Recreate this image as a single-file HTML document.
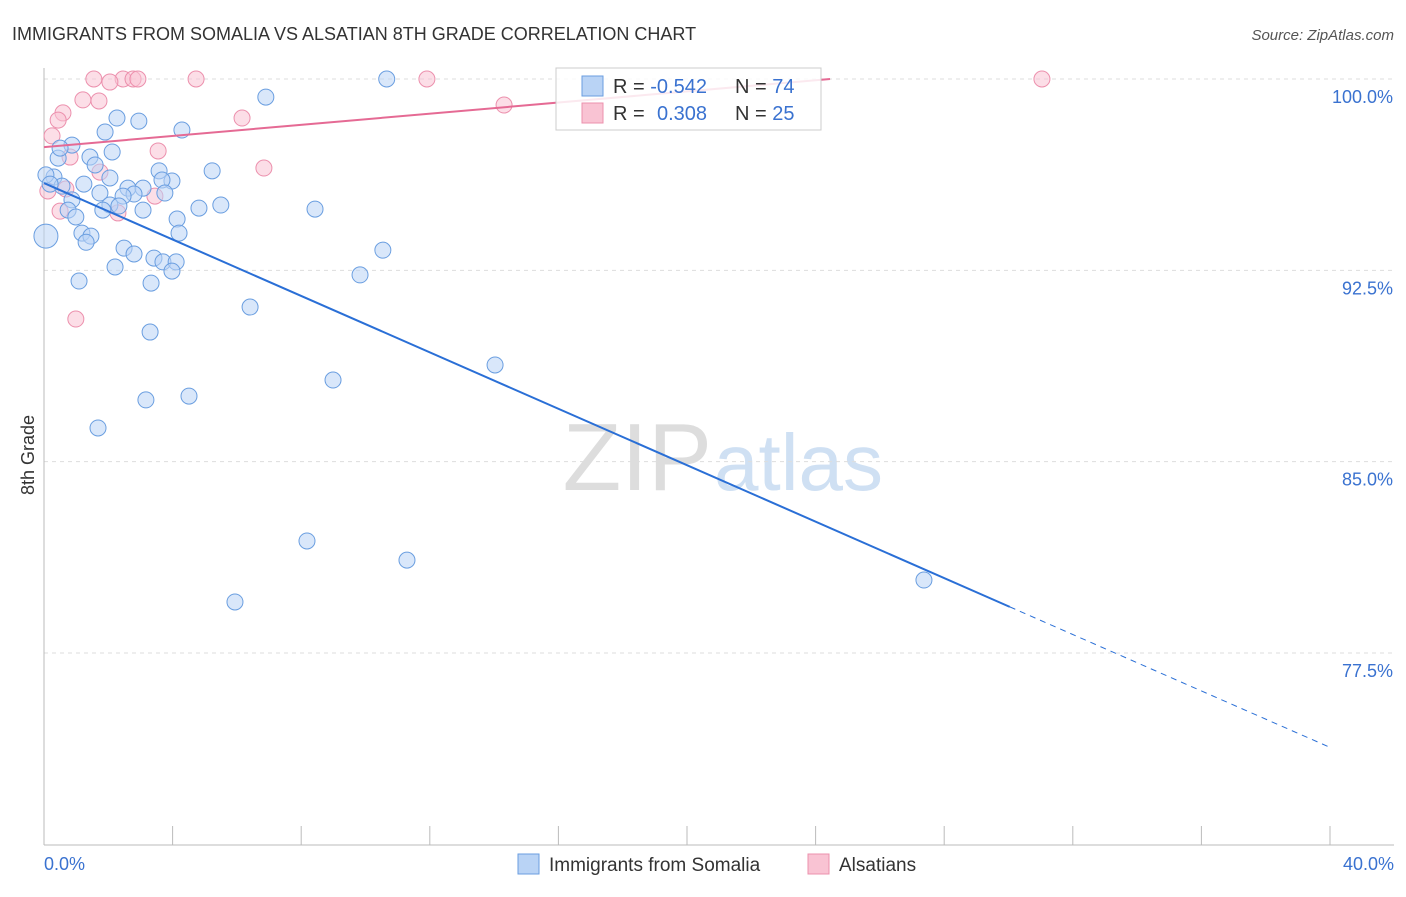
<!DOCTYPE html>
<html><head><meta charset="utf-8"><style>
body{margin:0;background:#fff;font-family:"Liberation Sans",sans-serif}
svg text{font-family:"Liberation Sans",sans-serif}
</style></head><body>
<svg width="1406" height="892" xmlns="http://www.w3.org/2000/svg">
<text x="12" y="40" font-size="18" fill="#333">IMMIGRANTS FROM SOMALIA VS ALSATIAN 8TH GRADE CORRELATION CHART</text>
<text x="1394" y="40" font-size="15" fill="#555" font-style="italic" text-anchor="end">Source: ZipAtlas.com</text>
<text x="712" y="490" font-size="96" fill="#ddd" font-family="Liberation Serif" text-anchor="end">ZIP</text>
<text x="714" y="490" font-size="80" fill="#cfe0f3">atlas</text>
<g id="grid"></g>
<g id="axes"></g>
<g id="marks"></g>
<text x="34" y="455" font-size="18" fill="#333" transform="rotate(-90 34 455)" text-anchor="middle">8th Grade</text>
<g>
<rect x="556" y="68" width="265" height="62" fill="#fff" fill-opacity="0.85" stroke="#ccc"/>
<rect x="582" y="76" width="21" height="20" fill="#b9d3f5" stroke="#6a9ee0"/>
<rect x="582" y="103" width="21" height="20" fill="#f9c3d3" stroke="#ec90ad"/>
<text x="613" y="93" font-size="20" fill="#333">R = <tspan fill="#3a72d0">-0.542</tspan></text>
<text x="735" y="93" font-size="20" fill="#333">N = <tspan fill="#3a72d0">74</tspan></text>
<text x="613" y="120" font-size="20" fill="#333">R = <tspan fill="#3a72d0" x="657">0.308</tspan></text>
<text x="735" y="120" font-size="20" fill="#333">N = <tspan fill="#3a72d0">25</tspan></text>
</g>
<g>
<rect x="518" y="854" width="21" height="20" fill="#b9d3f5" stroke="#6a9ee0"/>
<text x="549" y="871" font-size="19" fill="#333">Immigrants from Somalia</text>
<rect x="808" y="854" width="21" height="20" fill="#f9c3d3" stroke="#ec90ad"/>
<text x="839" y="871" font-size="19" fill="#333">Alsatians</text>
</g>
</svg>
<script>
const yTicks=[100,92.5,85,77.5];
const yTickLabels=["100.0%","92.5%","85.0%","77.5%"];
const xTickLabels=["0.0%","40.0%"];
const somaliaX=[10.66,6.9,2.27,2.95,4.29,1.9,0.87,2.12,0.44,1.43,1.59,3.58,5.23,0.31,0.06,2.05,3.98,3.67,1.24,0.56,2.61,3.08,1.74,2.8,3.76,2.46,0.87,2.05,5.5,4.82,8.43,0.75,1.83,3.08,2.33,0.99,4.14,0.06,1.18,1.46,4.2,1.31,2.49,10.54,2.8,3.42,3.7,4.11,2.21,3.98,9.83,1.09,3.33,6.41,3.3,14.03,8.99,4.51,3.17,1.68,8.18,11.29,27.37,5.94,0.19,0.5];
const somaliaY=[100,99.29,98.47,98.35,98,97.92,97.41,97.14,96.9,96.94,96.63,96.4,96.4,96.16,96.24,96.12,96,96.04,95.88,95.8,95.72,95.72,95.53,95.49,95.53,95.41,95.26,95.06,95.06,94.94,94.9,94.86,94.86,94.86,95.02,94.59,94.51,93.84,93.96,93.84,93.96,93.6,93.37,93.29,93.14,92.98,92.83,92.83,92.63,92.47,92.32,92.08,92,91.06,90.08,88.79,88.2,87.57,87.42,86.32,81.89,81.14,80.36,79.5,95.88,97.29];
const alsX=[1.55,2.46,2.77,2.92,4.73,11.91,31.04,2.05,1.21,0.59,1.71,14.31,6.16,0.44,0.25,3.55,0.81,6.84,1.74,0.68,3.45,0.12,2.3,0.5,0.99];
const alsY=[100,100,100,100,100,100,100,99.88,99.18,98.67,99.14,98.98,98.47,98.39,97.77,97.18,96.94,96.51,96.35,95.69,95.41,95.61,94.75,94.82,90.59];
const somaliaFit=[95.92,73.8], somaliaSolidEnd=30.04;
const alsFit=[97.33,100], alsEnd=24.45;
const X=v=>44+v*32.15, Y=v=>79+(100-v)*25.51;
const NS="http://www.w3.org/2000/svg";
function mk(t,a,p){const e=document.createElementNS(NS,t);for(const k in a)e.setAttribute(k,a[k]);document.getElementById(p).appendChild(e);return e;}
yTicks.forEach((t,i)=>{
 const g=mk('line',{x1:44,x2:1394,y1:Y(t),y2:Y(t),stroke:'#ddd','stroke-dasharray':'4,4'},'grid');
 
 
 const l=mk('text',{x:1393,y:Y(t)+24,'font-size':18,fill:'#3a72d0','text-anchor':'end'},'axes');
 l.textContent=yTickLabels[i];
 
 
});
let ax=mk('line',{x1:44,x2:44,y1:68,y2:845,stroke:'#bbb'},'axes');


ax=mk('line',{x1:44,x2:1394,y1:845,y2:845,stroke:'#bbb'},'axes');


for(let i=0;i<=10;i++){const t=mk('line',{x1:X(i*4),x2:X(i*4),y1:826,y2:845,stroke:'#bbb'},'axes');
 
 }
[[0,'start',44],[40,'end',1394]].forEach((d,i)=>{const t=mk('text',{x:d[2],y:870,'font-size':18,fill:'#3a72d0','text-anchor':d[1]},'axes');t.textContent=xTickLabels[i];
 
 });
alsX.forEach((x,i)=>{const c=mk('circle',{cx:X(x),cy:Y(alsY[i]),r:8,fill:'#f9c3d3','fill-opacity':0.55,stroke:'#ec90ad','stroke-width':1},'marks');
 
 });
somaliaX.forEach((x,i)=>{const c=mk('circle',{cx:X(x),cy:Y(somaliaY[i]),r:i==37?12:8,fill:'#b9d3f5','fill-opacity':0.55,stroke:'#6a9ee0','stroke-width':1},'marks');
 
 });
const sf=x=>somaliaFit[0]+(somaliaFit[1]-somaliaFit[0])*x/40;
let ln=mk('line',{x1:X(0),y1:Y(sf(0)),x2:X(somaliaSolidEnd),y2:Y(sf(somaliaSolidEnd)),stroke:'#2a6fd6','stroke-width':2},'marks');


ln=mk('line',{x1:X(somaliaSolidEnd),y1:Y(sf(somaliaSolidEnd)),x2:X(40),y2:Y(sf(40)),stroke:'#2a6fd6','stroke-width':1,'stroke-dasharray':'6,5'},'marks');


ln=mk('line',{x1:X(0),y1:Y(alsFit[0]),x2:X(alsEnd),y2:Y(alsFit[1]),stroke:'#e56a94','stroke-width':2},'marks');


</script>
</body></html>
